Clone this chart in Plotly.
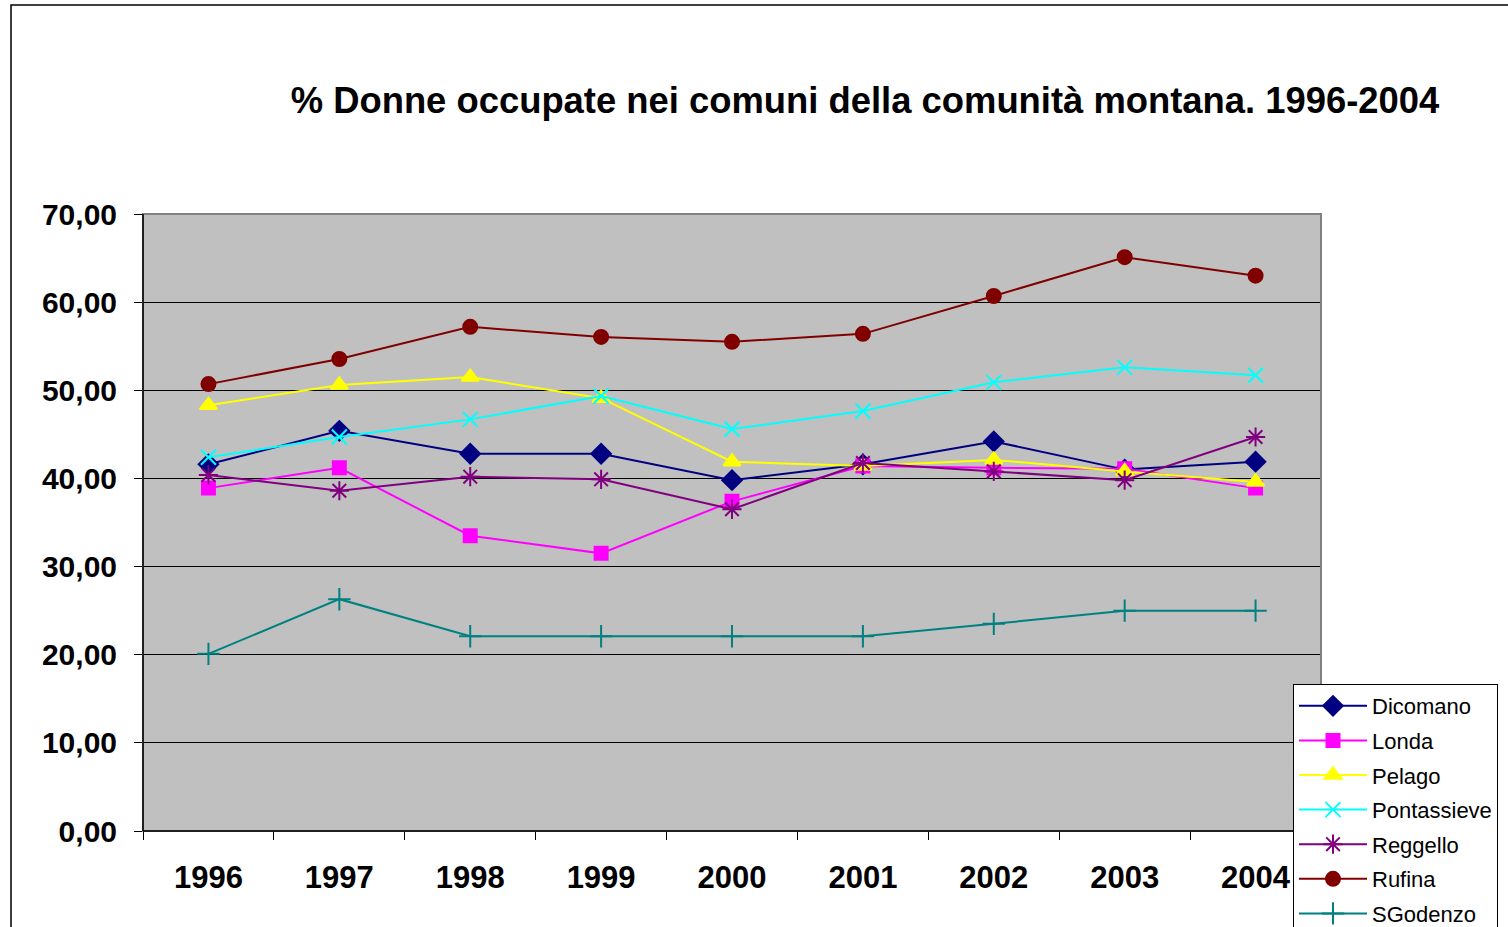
import plotly.graph_objects as go

years = ["1996", "1997", "1998", "1999", "2000", "2001", "2002", "2003", "2004"]
dicomano = [41.6, 45.4, 42.8, 42.8, 39.8, 41.6, 44.2, 41.0, 41.9]
londa = [38.9, 41.2, 33.5, 31.5, 37.4, 41.4, 41.2, 41.1, 38.9]
pelago = [48.3, 50.6, 51.5, 49.1, 41.9, 41.4, 42.1, 40.8, 39.6]
pontassieve = [42.4, 44.7, 46.7, 49.35, 45.6, 47.65, 50.9, 52.6, 51.7]
reggello = [40.4, 38.6, 40.2, 39.9, 36.5, 41.75, 40.8, 39.8, 44.7]
rufina = [50.7, 53.55, 57.2, 56.05, 55.5, 56.4, 60.7, 65.1, 63.0]
sgodenzo = [20.1, 26.3, 22.1, 22.1, 22.1, 22.1, 23.5, 25.0, 25.0]

y_ticks = [0, 10, 20, 30, 40, 50, 60, 70]
y_tick_text = ["0,00", "10,00", "20,00", "30,00", "40,00", "50,00", "60,00", "70,00"]

series = [
    ("Dicomano", dicomano, "#000080", "diamond", 15),
    ("Londa", londa, "#FF00FF", "square", 13),
    ("Pelago", pelago, "#FFFF00", "triangle-up", 15),
    ("Pontassieve", pontassieve, "#00FFFF", "x-thin-open", 15),
    ("Reggello", reggello, "#800080", "asterisk-open", 16),
    ("Rufina", rufina, "#800000", "circle", 14),
    ("SGodenzo", sgodenzo, "#008080", "cross-thin-open", 16),
]

fig = go.Figure()
for name, vals, col, sym, sz in series:
    fig.add_trace(go.Scatter(
        x=years, y=vals, name=name, mode="lines+markers", legendgroup=name,
        line=dict(color=col, width=2),
        marker=dict(symbol=sym, size=sz, color=col, line=dict(color=col, width=2)),
    ))

L, R, T, B = 143, 187, 214, 96
pw = 1508 - L - R
ph = 927 - T - B

FONT = "Liberation Sans, Arial, sans-serif"

fig.update_layout(
    width=1508, height=927,
    margin=dict(l=L, r=R, t=T, b=B, autoexpand=False),
    paper_bgcolor="white",
    plot_bgcolor="#C0C0C0",
    font=dict(family=FONT, color="black"),
    title=dict(
        text="<b>% Donne occupate nei comuni della comunità montana. 1996-2004</b>",
        font=dict(size=36.4, color="black"),
        x=865 / 1508, xanchor="center",
        y=1 - 100 / 927, yanchor="middle",
    ),
    showlegend=True,
    legend=dict(
        x=(1293 - L) / pw, xanchor="left",
        y=(927 - B - 684) / ph, yanchor="top",
        bgcolor="white", bordercolor="black", borderwidth=1,
        font=dict(size=22, color="black"),
        tracegroupgap=3,
        itemwidth=68,
    ),
    xaxis=dict(
        type="category", categoryorder="array", categoryarray=years,
        range=[-0.5, 8.5], automargin=False,
        showgrid=False, zeroline=False,
        showline=True, linecolor="black", linewidth=1,
        ticks="outside", tickson="boundaries", ticklen=8, tickcolor="black",
        tickfont=dict(size=31, color="black", family=FONT, weight="bold"),
        ticklabelstandoff=19,
    ),
    yaxis=dict(
        range=[0, 70], tickvals=y_ticks, ticktext=y_tick_text, automargin=False,
        showgrid=True, gridcolor="black", gridwidth=1,
        zeroline=False,
        showline=True, linecolor="black", linewidth=1,
        ticks="outside", ticklen=8, tickcolor="black",
        tickfont=dict(size=30, color="black", family=FONT, weight="bold"),
        ticklabelstandoff=11,
    ),
)

# plot area border (gray top/right, black axes)
fig.add_shape(type="rect", xref="paper", yref="paper", x0=0, x1=1, y0=0, y1=1,
              line=dict(color="#808080", width=2), layer="above")
fig.add_shape(type="line", xref="paper", yref="paper", x0=0, x1=1, y0=0, y1=0,
              line=dict(color="black", width=1.5), layer="above")
fig.add_shape(type="line", xref="paper", yref="paper", x0=0, x1=0, y0=0, y1=1,
              line=dict(color="black", width=1.5), layer="above")
# outer chart border
fig.add_shape(type="rect", xref="paper", yref="paper",
              x0=(11 - L) / pw, x1=(1560 - L) / pw,
              y0=(927 - B - 980) / ph, y1=(927 - B - 5) / ph,
              line=dict(color="black", width=1.5), layer="below")

fig.write_html("out.html", config={"displayModeBar": False},
               post_script="document.body.style.margin='0';document.body.style.overflow='hidden';")
